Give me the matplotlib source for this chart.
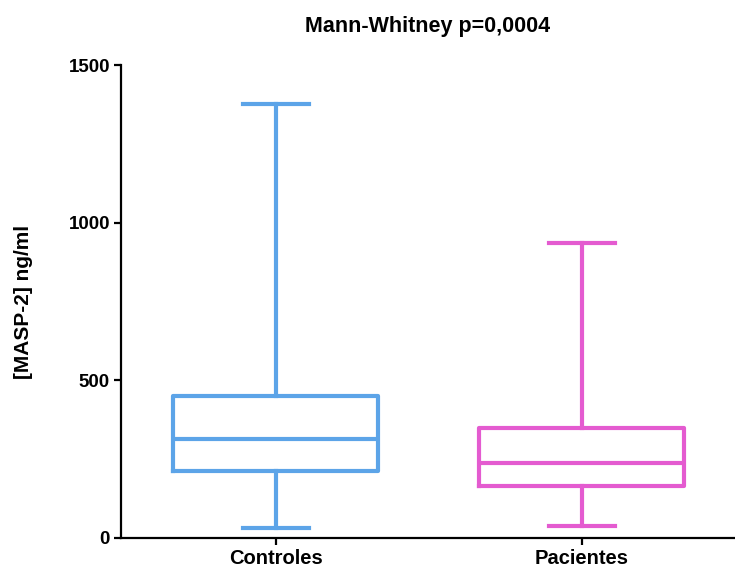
import matplotlib
matplotlib.use('Agg')
import matplotlib.pyplot as plt

plt.rcParams['font.family'] = ['Liberation Sans', 'DejaVu Sans']
plt.rcParams['font.weight'] = 'bold'

# box stats (ng/ml)
groups = ['Controles', 'Pacientes']
whislo = [32, 37]
q1 = [211, 164]
med = [314, 238]
q3 = [451, 349]
whishi = [1376, 935]
colors = ['#5CA4E8', '#E45BD0']

fig = plt.figure(figsize=(7.35, 5.68), dpi=100)
ax = fig.add_axes([121/735, 1 - 538/568, 614/735, 473/568])

stats = []
for i in range(len(groups)):
    stats.append({'label': groups[i], 'whislo': whislo[i], 'q1': q1[i],
                  'med': med[i], 'q3': q3[i], 'whishi': whishi[i], 'fliers': []})

for i in range(len(groups)):
    c = colors[i]
    ax.bxp([stats[i]], positions=[i + 1], widths=0.67, showfliers=False,
           capwidths=0.215,
           boxprops=dict(color=c, linewidth=3),
           medianprops=dict(color=c, linewidth=3),
           whiskerprops=dict(color=c, linewidth=3),
           capprops=dict(color=c, linewidth=3))

ax.set_xlim(0.495, 2.5)
ax.set_ylim(0, 1500)
ax.set_yticks([0, 500, 1000, 1500])
ax.set_xticks([1, 2])
ax.set_xticklabels(groups)

for s in ['top', 'right']:
    ax.spines[s].set_visible(False)
for s in ['left', 'bottom']:
    ax.spines[s].set_linewidth(1.6)
ax.tick_params(axis='both', length=5, width=1.6, pad=3)
ax.tick_params(axis='y', labelsize=13.5)
ax.tick_params(axis='x', labelsize=14.5)

ax.set_ylabel('[MASP-2] ng/ml', fontsize=15, fontweight='bold')
ax.yaxis.set_label_coords(-0.143, 0.5)
ax.set_title('Mann-Whitney p=0,0004', fontsize=15.5, fontweight='bold', pad=24)

fig.savefig('out.png', dpi=100)
